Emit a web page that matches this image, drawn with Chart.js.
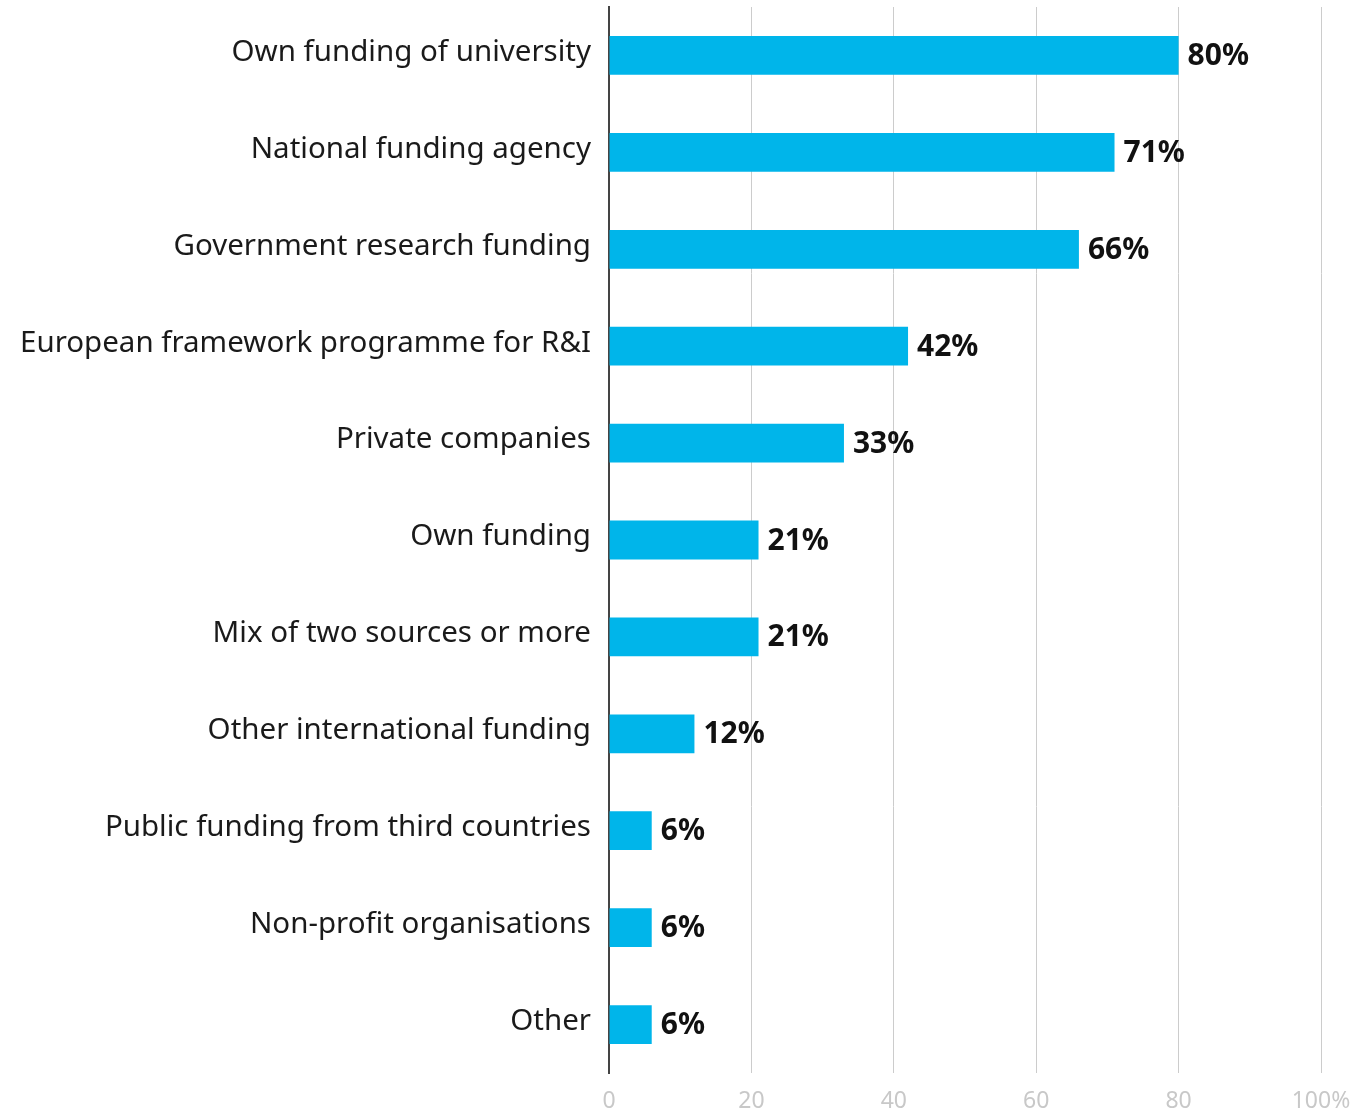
<!DOCTYPE html>
<html>
<head>
<meta charset="utf-8">
<script src="https://cdn.jsdelivr.net/npm/chart.js@4.4.0/dist/chart.umd.min.js"></script>
<style>
  html, body { margin: 0; padding: 0; background: #fff; }
  #wrap { width: 1358px; height: 1112px; }
</style>
</head>
<body>
<div id="wrap"><canvas id="myChart"></canvas></div>
<script>
"use strict";
const categories = [
  "Own funding of university",
  "National funding agency",
  "Government research funding",
  "European framework programme for R&I",
  "Private companies",
  "Own funding",
  "Mix of two sources or more",
  "Other international funding",
  "Public funding from third countries",
  "Non-profit organisations",
  "Other",
];
const shares = [80, 71, 66, 42, 33, 21, 21, 12, 6, 6, 6];
const tickValues = [0, 20, 40, 60, 80, 100];

const FONT = "'Noto Sans', 'Open Sans', sans-serif";

// bold % labels just right of each bar end
const valueLabels = {
  id: "valueLabels",
  afterDatasetsDraw(chart) {
    const ctx = chart.ctx;
    const meta = chart.getDatasetMeta(0);
    ctx.save();
    ctx.font = `bold 30px ${FONT}`;
    ctx.fillStyle = "#111";
    ctx.textAlign = "left";
    ctx.textBaseline = "middle";
    meta.data.forEach(function (bar, i) {
      ctx.fillText(`${shares[i]}%`, bar.x + 9, bar.y + 1);
    });
    ctx.restore();
  },
};

const ctx = document.getElementById("myChart").getContext("2d");
const myChart = new Chart(ctx, {
  type: "bar",
  data: {
    labels: categories,
    datasets: [
      {
        data: shares,
        backgroundColor: "#00b5ea",
        barPercentage: 0.4,
        categoryPercentage: 1,
      },
    ],
  },
  options: {
    indexAxis: "y",
    responsive: true,
    maintainAspectRatio: false,
    animation: false,
    layout: { padding: { left: 0, right: 37, top: 7, bottom: 0 } },
    plugins: {
      legend: { display: false },
      tooltip: { enabled: false },
    },
    scales: {
      x: {
        min: 0,
        max: 100,
        afterBuildTicks: (scale) => {
          scale.ticks = tickValues.map((v) => ({ value: v }));
        },
        afterFit: (scale) => {
          scale.height = 39;
          scale.paddingLeft = 0;
          scale.paddingRight = 0;
        },
        grid: { color: "#cccccc", lineWidth: 1, drawTicks: false },
        border: { display: false },
        ticks: {
          padding: 15,
          color: "#c8c8c8",
          font: { family: FONT, size: 23 },
          callback: (v) => (v === 100 ? "100%" : v),
        },
      },
      y: {
        afterFit: (scale) => {
          scale.width = 609;
          scale.paddingTop = 0;
          scale.paddingBottom = 0;
        },
        grid: { display: false, drawTicks: false },
        border: { display: true, color: "#444", width: 2 },
        ticks: {
          padding: 18,
          labelOffset: -3,
          color: "#1a1a1a",
          font: { family: FONT, size: 29.5 },
        },
      },
    },
  },
  plugins: [valueLabels],
});
</script>
</body>
</html>
